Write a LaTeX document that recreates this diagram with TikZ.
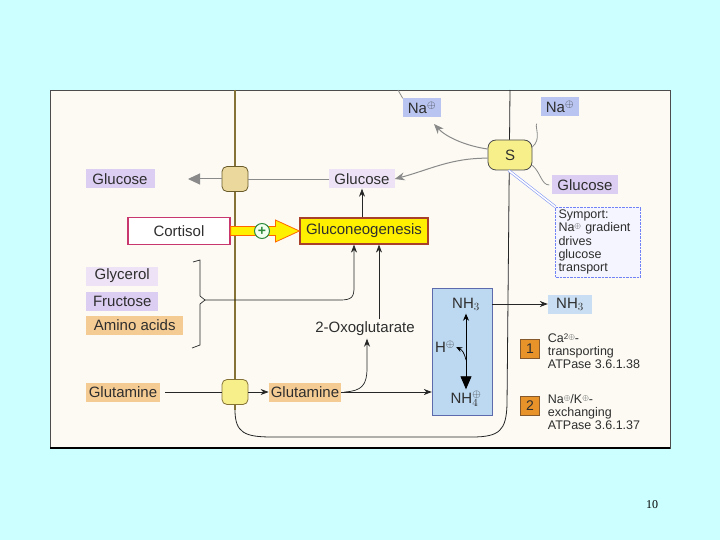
\documentclass[tikz,border=0pt]{standalone}
\usepackage{fontspec}
\setmainfont{Liberation Sans}
\newfontfamily\pagefont{Liberation Serif}
\usetikzlibrary{arrows.meta, positioning, calc}
\definecolor{bgc}{HTML}{CCFFFF}
\definecolor{pap}{HTML}{FCFAF3}
\definecolor{lav}{HTML}{DCCDF2}
\definecolor{lavlt}{HTML}{EEE3F6}
\definecolor{nab}{HTML}{B9C5F0}
\definecolor{pch}{HTML}{F5CB94}
\definecolor{syel}{HTML}{F7EF8A}
\definecolor{ctan}{HTML}{EBD89C}
\definecolor{cblu}{HTML}{BDD8F1}
\definecolor{nhb}{HTML}{C9DEF2}
\definecolor{crim}{HTML}{C8386E}
\definecolor{gyel}{HTML}{FFF000}
\definecolor{gbrd}{HTML}{A8402A}
\definecolor{orn}{HTML}{E8922A}
\definecolor{oliv}{HTML}{857236}
\definecolor{gar}{HTML}{8A8A8A}
\definecolor{txt}{HTML}{2E2E2E}
\definecolor{grn}{HTML}{2E8B3E}
\newcommand{\chg}{\raisebox{0.5ex}{\fontsize{8}{8}\selectfont$\oplus$}}
\tikzset{
  lbl/.style    = {rectangle, inner xsep=5pt, inner ysep=1pt, minimum height=19pt,
                   font=\fontsize{15}{17}\selectfont, text=txt},
  carrier/.style= {rectangle, rounded corners=5pt, minimum width=26pt,
                   minimum height=25pt, line width=0.8pt},
  sym/.style    = {rectangle, rounded corners=8pt, draw=black!70, fill=syel,
                   minimum width=44pt, minimum height=30pt, line width=0.8pt,
                   font=\fontsize{15}{17}\selectfont, text=txt},
  cort/.style   = {rectangle, draw=crim, fill=white, line width=1.2pt,
                   minimum width=102pt, minimum height=27pt,
                   font=\fontsize{15}{17}\selectfont, text=txt},
  gng/.style    = {rectangle, draw=gbrd, fill=gyel, line width=1.2pt,
                   minimum width=128pt, minimum height=26pt,
                   font=\fontsize{15}{17}\selectfont, text=txt},
  plus/.style   = {circle, draw=grn, fill=green!6!white, line width=1pt,
                   minimum size=15pt, inner sep=0pt, text=grn,
                   font=\bfseries\fontsize{14}{14}\selectfont},
  cellbox/.style= {rectangle, draw=blue!30!cblu!70!black, fill=cblu,
                   minimum width=60pt, minimum height=127pt},
  symbox/.style = {rectangle, draw=blue!40!cblu, densely dotted, fill=blue!4!white,
                   text width=79pt, align=left, inner sep=3pt, text=txt,
                   font=\fontsize{12.5}{13.2}\selectfont},
  legsq/.style  = {rectangle, draw=brown!70!black, fill=orn, minimum width=19pt,
                   minimum height=19pt, inner sep=0pt, text=txt,
                   font=\fontsize{14}{14}\selectfont},
  legtxt/.style = {align=left, inner sep=0pt, text=txt,
                   font=\fontsize{12.5}{12.8}\selectfont},
  barr/.style   = {-{Stealth[length=8pt,width=6pt]}, line width=0.7pt, color=black!85},
  bline/.style  = {line width=0.7pt, color=black!85},
  garr/.style   = {-{Stealth[length=10pt,width=8pt]}, line width=1pt, color=gar},
  gline/.style  = {line width=0.8pt, color=gar},
  callout/.style= {draw=blue!30!cblu, double=white, double distance=1.5pt, line width=0.6pt},
}

\begin{document}
\begin{tikzpicture}[x=1pt, y=-1pt]
  \useasboundingbox (0,0) rectangle (720,540);
  \fill[bgc] (0,0) rectangle (720,540);
  \draw[fill=pap, draw=black!70, line width=0.8pt] (50,90) rectangle (670,448);
  \draw[line width=1.5pt] (50,448) -- (670,448);

  % cell membrane
  \draw[oliv, line width=1.1pt] (235,90) -- (235,410);
  \draw[black!85, line width=0.8pt] (235,410) .. controls (235,433) and (245,437) .. (272,437)
    -- (472,437) .. controls (500,437) and (506,430) .. (507,405) -- (510,90);

  % carriers
  \node[carrier, fill=ctan, draw=oliv!80!black] (t1) at (235,179) {};
  \node[carrier, fill=syel, draw=oliv] (t2) at (235,392) {};
  \node[sym] (s) at (510,155) {S};

  \node[lbl, fill=nab] (na1) at (422,108) {Na$^{\oplus}$};
  \node[lbl, fill=nab] (na2) at (560,107) {Na$^{\oplus}$};
  \node[lbl, fill=lav, minimum width=69pt] (glcL) at (120,179) {Glucose};
  \node[lbl, fill=lavlt, minimum width=65pt] (glcM) at (362,179) {Glucose};
  \node[lbl, fill=lav, minimum width=64pt] (glcR) at (585,185) {Glucose};
  \node[symbox] (sympt) at (598,242) {Symport:\\Na\chg{} gradient\\drives\\glucose\\transport};

  \node[cort] (cort) at (179,231) {Cortisol};
  \node[gng] (gng) at (364,231) {Gluconeogenesis};

  \node[lbl, fill=lavlt, anchor=west, minimum width=72pt] (glyc) at (86,276) {Glycerol};
  \node[lbl, fill=lav, anchor=west, minimum width=72pt] (fruc) at (86,301) {Fructose};
  \node[lbl, fill=pch, anchor=west, minimum width=97pt] (amino) at (86,325) {Amino acids};
  \node[lbl, fill=pch, minimum width=74pt, inner xsep=2pt] (glnL) at (123,392) {Glutamine};
  \node[lbl, fill=pch, minimum width=72pt, inner xsep=2pt] (glnM) at (305,392) {Glutamine};
  \node[lbl] (oxo) at (365,329) {2-Oxoglutarate};

  \node[cellbox] (cell) at (462,352) {};
  \node[lbl] (nh3a) at (466,304) {NH$_3$};
  \node[lbl] (nh4) at (466,399) {NH$_4^{\oplus}$};
  \node[lbl, inner xsep=1pt] (hp) at (445,347) {H$^{\oplus}$};
  \node[lbl, fill=nhb, minimum width=44pt] (nh3b) at (570,304) {NH$_3$};

  \node[legsq] (k1) at (530,349) {1};
  \node[legtxt, right=8pt of k1, yshift=-2pt] (k1t) {Ca\raisebox{0.5ex}{\fontsize{8}{8}\selectfont 2$\oplus$}-\\transporting\\ATPase 3.6.1.38};
  \node[legsq] (k2) at (530,406) {2};
  \node[legtxt, right=8pt of k2, yshift=-6pt] (k2t) {Na\chg/K\chg-\\exchanging\\ATPase 3.6.1.37};

  \node[font=\pagefont\fontsize{12}{12}\selectfont] (pg) at (652,505) {10};

  % symport
  \coordinate (natop) at (398,90);
  \coordinate (naend) at (434,124);
  \draw[gline] (natop) -- (na1.north west);
  \draw[garr] (s.165) .. controls (466,146) and (446,137) .. (naend);
  \draw[garr] (s.188) to[out=180, in=15] (glcM.east);
  \draw[gline, shorten >=8pt] (s.20) to[out=40, in=-120] (na2.south west);
  \draw[gline, shorten >=3pt] (s.-25) to[out=-40, in=180] (glcR.west);
  \draw[callout] (s.-95) -- (sympt.north west);

  % glucose out of the cell
  \coordinate (glcout) at (188,179);
  \draw[gline] (glcM.west) -- (t1.east);
  \draw[-{Triangle[length=12pt,width=11pt]}, line width=1pt, gar] (t1.west) -- (glcout);

  % cortisol stimulates
  \draw[draw=orange!80!red, fill=gyel, line width=0.8pt]
    ($(cort.east)+(0,-4.5)$) -- ($(gng.west)+(-24,-4.5)$) -- ($(gng.west)+(-24,-11)$)
    -- (gng.west) -- ($(gng.west)+(-24,11)$) -- ($(gng.west)+(-24,4.5)$)
    -- ($(cort.east)+(0,4.5)$) -- cycle;
  \node[plus] (pl) at (262,231) {+};
  \draw[barr] (gng.north -| glcM.south) -- (glcM.south);

  % substrates
  \coordinate (brk) at (205,300);
  \draw[bline] (193,262) -- (200,260) -- (200,296) -- (brk) -- (200,304) -- (200,345) -- (192,348);
  \draw[barr] (brk) -- (340,300) .. controls (352,300) and (354,297) .. (354,287)
    -- ($(gng.south)+(-10,0)$);
  \draw[barr] ($(oxo.north)+(14,0)$) -- ($(gng.south)+(15,0)$);

  % glutamine
  \coordinate (oxin) at (367,368);
  \draw[bline, shorten <=5pt] (glnL.east) -- (t2.west);
  \draw[barr] (t2.east) -- (glnM.west);
  \draw[barr] (glnM.east) -- (cell.west |- glnM.east);
  \draw[barr] ($(glnM.east)+(3,0)$) .. controls (362,391) and (367,385) .. (oxin) -- (oxo.south -| oxin);

  % ammonia
  \coordinate (hsrc) at (466,360);
  \draw[{Stealth[length=7pt,width=6pt]}-{Triangle[length=13pt,width=11pt]}, line width=0.8pt]
    (nh3a.south) -- (nh4.north);
  \draw[-{Stealth[length=6pt,width=5pt]}, line width=0.7pt] (hsrc) .. controls (464,352) and (462,350) .. (hp.east);
  \draw[barr] (cell.east |- nh3a.east) -- (nh3b.west);
\end{tikzpicture}
\end{document}
